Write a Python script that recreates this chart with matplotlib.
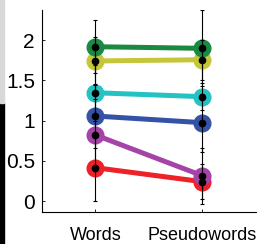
import matplotlib
matplotlib.use("Agg")
import matplotlib.pyplot as plt
from matplotlib.patches import Rectangle

plt.rcParams["font.family"] = ["Liberation Sans", "DejaVu Sans"]

# Data
conditions = ["Words", "Pseudowords"]
green = [1.917, 1.897]
yellow = [1.74, 1.755]
cyan = [1.345, 1.296]
blue = [1.056, 0.973]
purple = [0.82, 0.314]
red = [0.414, 0.24]

green_err = [0.33, 0.47]
yellow_err = [0.30, 0.25]
cyan_err = [0.35, 0.17]
blue_err = [0.40, 0.36]
purple_err = [0.45, 0.35]
red_err = [0.42, 0.22]

series = [
    (red, red_err, "#ee2028"),
    (purple, purple_err, "#a444a8"),
    (blue, blue_err, "#3452a6"),
    (cyan, cyan_err, "#24c2c2"),
    (yellow, yellow_err, "#c6c63a"),
    (green, green_err, "#1a8a42"),
]

fig = plt.figure(figsize=(2.57, 2.44), dpi=100)
ax = fig.add_axes([0.163, 0.131, 0.837, 0.828])

x = [1, 2]
for vals, errs, col in series:
    ax.plot(x, vals, "-", color=col, lw=3.6, marker="o", ms=12, zorder=2)
for vals, errs, col in series:
    ax.errorbar(x, vals, yerr=errs, fmt="none", ecolor="black",
                elinewidth=0.8, capsize=1.5, capthick=0.8, zorder=3)
    ax.plot(x, vals, "o", color="black", ms=4.5, zorder=4)

ax.set_xlim(0.5, 2.51)
ax.set_ylim(-0.137, 2.373)
ax.set_xticks(x)
ax.set_xticklabels(conditions, fontsize=13)
ax.set_yticks([0, 0.5, 1, 1.5, 2])
ax.set_yticklabels(["0", "0.5", "1", "1.5", "2"], fontsize=15)
ax.tick_params(direction="in", length=2, width=0.6)
ax.tick_params(axis="x", pad=10.5)
ax.tick_params(axis="y", pad=5)

ax.spines["top"].set_visible(False)
ax.spines["right"].set_visible(False)
for s in ("left", "bottom"):
    ax.spines[s].set_linewidth(0.8)

# leftover strip from a neighbouring panel
fig.patches.append(Rectangle((0, 0), 4 / 257, 141 / 244, transform=fig.transFigure,
                             color="black", zorder=0))
fig.patches.append(Rectangle((0, 141 / 244), 4 / 257, 103 / 244, transform=fig.transFigure,
                             color="#d8d8d8", zorder=0))

fig.savefig("out.png", dpi=100)
